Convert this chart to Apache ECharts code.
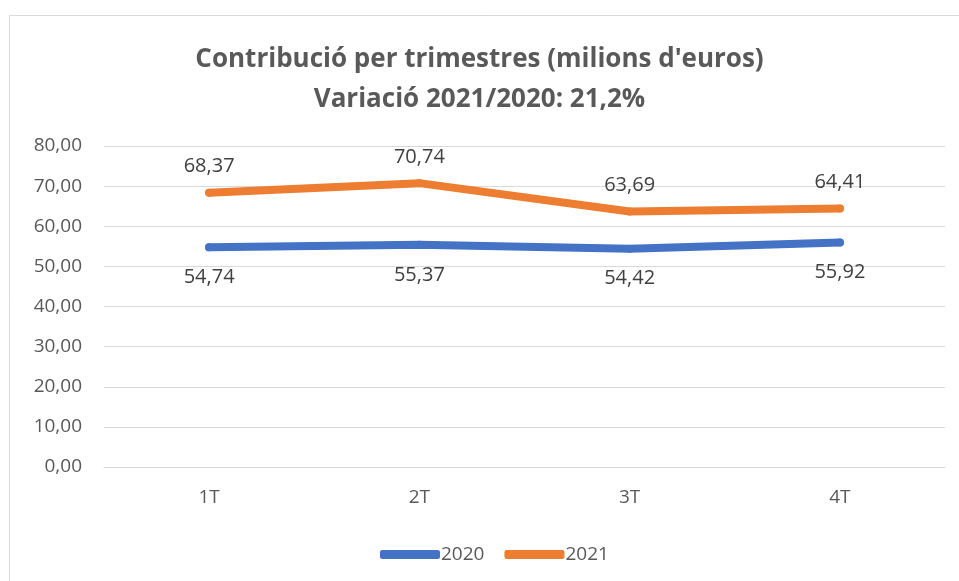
<!DOCTYPE html>
<html>
<head>
<meta charset="utf-8">
<script src="https://cdn.jsdelivr.net/npm/echarts@6/dist/echarts.min.js"></script>
<style>
  html, body { margin: 0; padding: 0; background: #fff; }
  #chart { width: 959px; height: 581px; }
</style>
</head>
<body>
<div id="chart"></div>
<script>
// dades
const categories = ['1T', '2T', '3T', '4T']
const values2020 = [54.74, 55.37, 54.42, 55.92]
const values2021 = [68.37, 70.74, 63.69, 64.41]
const yTicks = [0, 10, 20, 30, 40, 50, 60, 70, 80]

const fontFamily = "'Open Sans', 'Noto Sans', sans-serif"
const fmt = v => v.toFixed(2).replace('.', ',')

const chart = echarts.init(document.getElementById('chart'))

chart.setOption({
  textStyle: { fontFamily },
  animation: false,
  title: {
    text: "Contribució per trimestres (milions d'euros)\nVariació 2021/2020: 21,2%",
    left: 'center',
    top: 35,
    textStyle: {
      color: '#595959',
      fontSize: 26,
      fontWeight: 'bold',
      lineHeight: 40,
      fontFamily
    }
  },
  graphic: [{
    type: 'rect',
    shape: { x: 9.5, y: 15.5, width: 960, height: 580 },
    style: { fill: 'none', stroke: '#d9d9d9', lineWidth: 1 },
    silent: true
  }],
  legend: {
    bottom: 12,
    left: 375,
    itemWidth: 60,
    itemHeight: 9,
    itemGap: 20,
    icon: 'roundRect',
    textStyle: { color: '#595959', fontSize: 19, fontFamily, padding: [0, 0, 0, -4] },
    data: ['2020', '2021']
  },
  grid: { left: 104, right: 14, top: 146, bottom: 114 },
  xAxis: {
    type: 'category',
    data: categories,
    axisTick: { show: false },
    axisLine: { lineStyle: { color: '#d9d9d9', width: 1 } },
    axisLabel: { color: '#595959', fontSize: 19, margin: 21, fontFamily }
  },
  yAxis: {
    type: 'value',
    min: 0,
    max: 80,
    interval: 10,
    axisLabel: {
      color: '#595959',
      fontSize: 19,
      margin: 22,
      fontFamily,
      formatter: v => yTicks.includes(v) ? fmt(v) : ''
    },
    axisLine: { show: false },
    axisTick: { show: false },
    splitLine: { lineStyle: { color: '#d9d9d9', width: 1 } }
  },
  series: [
    {
      name: '2020',
      type: 'line',
      data: values2020,
      symbol: 'circle',
      symbolSize: 8,
      showSymbol: true,
      itemStyle: { color: '#4472c4' },
      lineStyle: { width: 8, color: '#4472c4', cap: 'round', join: 'round' },
      label: {
        show: true,
        position: 'bottom',
        distance: 16,
        color: '#404040',
        fontSize: 20,
        fontFamily,
        formatter: p => fmt(p.value)
      }
    },
    {
      name: '2021',
      type: 'line',
      data: values2021,
      symbol: 'circle',
      symbolSize: 8,
      showSymbol: true,
      itemStyle: { color: '#ed7d31' },
      lineStyle: { width: 8, color: '#ed7d31', cap: 'round', join: 'round' },
      label: {
        show: true,
        position: 'top',
        distance: 12,
        color: '#404040',
        fontSize: 20,
        fontFamily,
        formatter: p => fmt(p.value)
      }
    }
  ]
})
</script>
</body>
</html>
